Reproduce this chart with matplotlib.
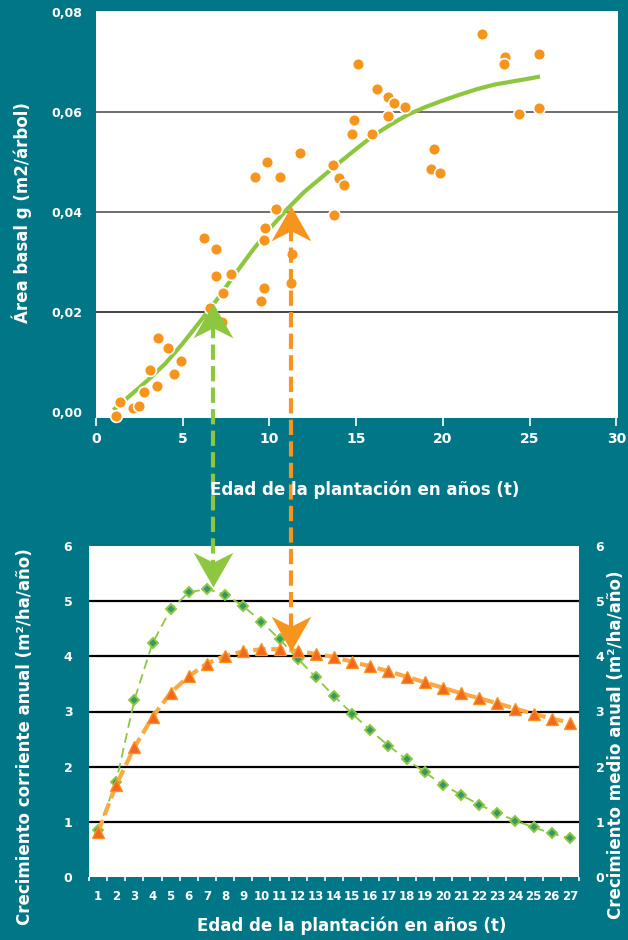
import matplotlib
matplotlib.use("Agg")
import matplotlib.pyplot as plt
import numpy as np
from matplotlib.path import Path
from matplotlib.lines import Line2D

plt.rcParams['font.family'] = ['DejaVu Sans']
plt.rcParams['font.weight'] = 'bold'
plt.rcParams['lines.scale_dashes'] = False

TEAL = '#007687'
GREEN = '#8DC63F'
ORANGE = '#F7941D'

# --- datos panel superior: area basal por arbol ---
edad_obs = [1.13, 1.38, 2.15, 2.5, 2.77, 3.1, 3.5, 3.58, 4.17, 4.5, 4.89,
            6.21, 6.92, 6.92, 7.79, 7.35, 6.58, 7.25,
            9.16, 9.85, 10.6, 10.4, 9.77, 9.71, 9.66, 9.52, 11.29, 11.23, 11.77,
            15.1, 16.23, 16.85, 17.18, 17.79, 16.85, 14.87, 14.77, 15.93,
            13.68, 14.0, 14.31, 13.75, 19.47, 19.29, 19.83,
            22.27, 23.56, 23.5, 25.52, 25.52, 24.37]
g_obs = [-0.0008, 0.0021, 0.0009, 0.0013, 0.0040, 0.0084, 0.0053, 0.0149, 0.0128, 0.0077, 0.0102,
         0.0348, 0.0327, 0.0272, 0.0277, 0.0238, 0.0208, 0.0180,
         0.0471, 0.0501, 0.0471, 0.0406, 0.0369, 0.0345, 0.0249, 0.0223, 0.0316, 0.0258, 0.0518,
         0.0697, 0.0647, 0.0631, 0.0619, 0.0611, 0.0592, 0.0585, 0.0557, 0.0557,
         0.0495, 0.0469, 0.0455, 0.0394, 0.0527, 0.0486, 0.0479,
         0.0756, 0.0711, 0.0697, 0.0717, 0.0609, 0.0597]

edad_ajuste = [1, 2, 3, 4, 5, 6, 7, 8, 9, 10, 11, 12, 13, 14, 15, 16, 17, 18,
               19, 20, 21, 22, 23, 24, 25, 25.6]
g_ajuste = [0.0004, 0.0034, 0.0064, 0.0097, 0.0137, 0.0181, 0.0226, 0.0275, 0.0322,
            0.0366, 0.0405, 0.0440, 0.0469, 0.0498, 0.0526, 0.0553, 0.0575, 0.0595,
            0.0610, 0.0623, 0.0635, 0.0646, 0.0655, 0.0661, 0.0667, 0.0671]

# --- datos panel inferior: crecimientos ---
anios = list(range(1, 28))
ica = [0.85, 1.73, 3.21, 4.24, 4.85, 5.16, 5.22, 5.12, 4.91, 4.63, 4.31, 3.96, 3.62,
       3.28, 2.96, 2.66, 2.38, 2.13, 1.90, 1.67, 1.49, 1.31, 1.16, 1.02, 0.90, 0.79, 0.70]
ima = [0.82, 1.67, 2.35, 2.90, 3.34, 3.64, 3.87, 4.01, 4.09, 4.13, 4.13, 4.10, 4.04,
       3.99, 3.90, 3.82, 3.73, 3.63, 3.53, 3.43, 3.33, 3.24, 3.15, 3.05, 2.96, 2.87, 2.80]

# flechas: x en edad del panel superior, y de punta en cada panel
flecha_x = [6.75, 11.25]
flecha_y_sup = [0.0218, 0.0412]
flecha_y_inf = [5.25, 4.09]
flecha_color = [GREEN, ORANGE]

W, H = 628, 940
fig = plt.figure(figsize=(W / 100, H / 100), dpi=100, facecolor=TEAL)

# panel superior
ax1 = fig.add_axes([96 / W, 1 - 418 / H, 522 / W, 407 / H])
ax1.set_xlim(0, 30.1)
ax1.set_ylim(-0.0012, 0.0802)
for s in ax1.spines.values():
    s.set_visible(False)
for yv, c in zip([0.02, 0.04, 0.06], ['#222222', '#555555', '#555555']):
    ax1.axhline(yv, color=c, lw=1.2, zorder=1)
ax1.plot(edad_ajuste, g_ajuste, color=GREEN, lw=3, zorder=3, solid_capstyle='butt')
ax1.scatter(edad_obs, g_obs, s=72, color=ORANGE, edgecolors='white', linewidths=1.2,
            zorder=4, clip_on=False)
ax1.set_xticks(np.arange(0, 31, 5))
ax1.set_yticks([0, 0.02, 0.04, 0.06, 0.08])
ax1.set_yticklabels(['0,00', '0,02', '0,04', '0,06', '0,08'])
ax1.tick_params(axis='x', colors='white', length=6, width=1.2, pad=4, labelsize=10)
ax1.tick_params(axis='y', colors='white', length=0, pad=10, labelsize=9)
fig.text(365 / W, 1 - 490 / H, 'Edad de la plantación en años (t)', color='white',
         fontsize=12, fontweight='bold', ha='center', va='center')
fig.text(22 / W, 1 - 213 / H, 'Área basal g (m2/árbol)', color='white',
         fontsize=12, fontweight='bold', ha='center', va='center', rotation=90)

# panel inferior
ax2 = fig.add_axes([89 / W, 1 - 877 / H, 490 / W, 331 / H])
ax2.set_xlim(0.5, 27.5)
ax2.set_ylim(0, 6)
for s in ax2.spines.values():
    s.set_visible(False)
for yv in range(1, 6):
    ax2.axhline(yv, color='black', lw=1.6, zorder=1)
ax2.plot(anios, ica, color=GREEN, lw=1.3, dashes=(7, 4), zorder=3,
         marker='D', ms=5.5, mfc='#33996b', mec=GREEN, mew=1.4)
ax2.plot(anios, ima, color='#FBA943', lw=3, dashes=(9, 4), zorder=4,
         marker='^', ms=8, mfc='#F26722', mec=ORANGE, mew=1)
ax2.set_xticks(anios)
ax2.set_xticks(np.arange(0.5, 28, 1), minor=True)
ax2.set_yticks(range(0, 7))
ax2.tick_params(axis='x', which='major', colors='white', length=0, pad=9, labelsize=8.5)
ax2.tick_params(axis='x', which='minor', colors='white', length=3, width=1.2)
ax2.tick_params(axis='y', colors='white', length=0, pad=12, labelsize=9,
                labelright=True)
fig.text(352 / W, 1 - 926 / H, 'Edad de la plantación en años (t)', color='white',
         fontsize=12, fontweight='bold', ha='center', va='center')
fig.text(25 / W, 1 - 737 / H, 'Crecimiento corriente anual (m²/ha/año)', color='white',
         fontsize=12, fontweight='bold', ha='center', va='center', rotation=90)
fig.text(616 / W, 1 - 745 / H, 'Crecimiento medio anual (m²/ha/año)', color='white',
         fontsize=12, fontweight='bold', ha='center', va='center', rotation=90)

# flechas que unen ambos paneles
punta_arriba = Path([(0, 0), (20, -35), (0, -25), (-20, -35), (0, 0)],
                    [Path.MOVETO, Path.LINETO, Path.LINETO, Path.LINETO, Path.CLOSEPOLY])
punta_abajo = Path([(0, 0), (20, 35), (0, 25), (-20, 35), (0, 0)],
                   [Path.MOVETO, Path.LINETO, Path.LINETO, Path.LINETO, Path.CLOSEPOLY])
inv = fig.transFigure.inverted()
for x, y1, y2, c in zip(flecha_x, flecha_y_sup, flecha_y_inf, flecha_color):
    p1 = ax1.transData.transform((x, y1))
    px = p1[0]
    p2 = (px, ax2.transData.transform((1, y2))[1])
    f1 = inv.transform(p1)
    f2 = inv.transform(p2)
    fig.add_artist(Line2D([f1[0], f2[0]], [f1[1] - 20 / H, f2[1] + 20 / H],
                          transform=fig.transFigure, color=c, lw=3, dashes=(11, 4.5)))
    fig.add_artist(Line2D([f1[0]], [f1[1]], transform=fig.transFigure, ls='none',
                          marker=punta_arriba, ms=50, color=c, mew=0))
    fig.add_artist(Line2D([f2[0]], [f2[1]], transform=fig.transFigure, ls='none',
                          marker=punta_abajo, ms=50, color=c, mew=0))

fig.savefig('out.png', dpi=100, facecolor=TEAL)
